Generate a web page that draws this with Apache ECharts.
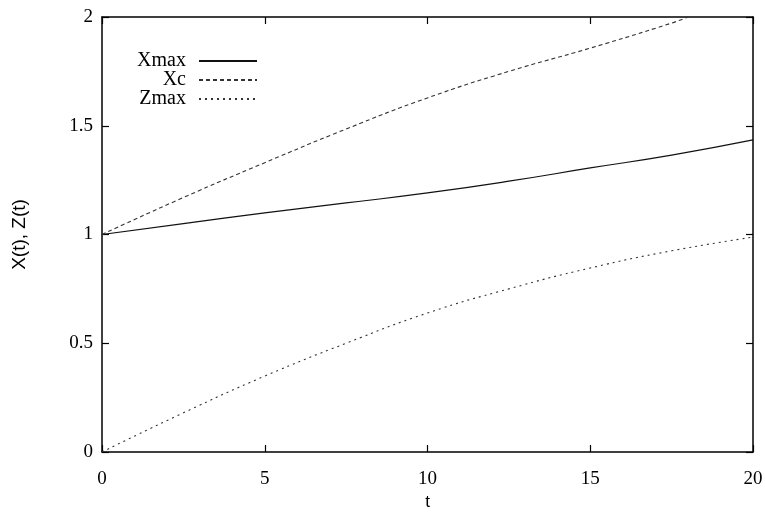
<!DOCTYPE html>
<html>
<head>
<meta charset="utf-8">
<script src="https://cdn.jsdelivr.net/npm/echarts@6/dist/echarts.min.js"></script>
<style>html,body{margin:0;padding:0;background:#fff}#c{width:765px;height:524px}</style>
</head>
<body>
<div id="c"></div>
<script>
var tMain = [0, 2.5, 5, 7.5, 10, 12.5, 15, 17.5, 20];
var xmax = [1.0, 1.05, 1.099, 1.145, 1.191, 1.245, 1.306, 1.365, 1.435];
var zmax = [0.0, 0.18, 0.349, 0.50, 0.639, 0.75, 0.846, 0.925, 0.988];
var tXc = [0, 2.5, 5, 7.5, 10, 12.5, 15, 17.5, 18];
var xc = [1.0, 1.17, 1.33, 1.485, 1.628, 1.75, 1.857, 1.972, 2.0];
var xTicks = [0, 5, 10, 15, 20];
var yTicks = [0, 0.5, 1, 1.5, 2];

function pairs(t, v) { return t.map(function (x, i) { return [x, v[i]]; }); }

var serif = 'Liberation Serif';
var chart = echarts.init(document.getElementById('c'));
function legendFor(name, top) {
  return {
    data: [name], right: 507, top: top, orient: 'vertical', align: 'right',
    itemWidth: 58, itemHeight: 10, padding: 0,
    itemStyle: { opacity: 0 },
    textStyle: { fontFamily: serif, fontSize: 20, color: '#000', padding: [0, 8, 0, 0] }
  };
}
var axLine = { show: true, onZero: false, lineStyle: { color: '#000', width: 1.5 } };
var axTick = { show: true, inside: true, length: 7, lineStyle: { color: '#000', width: 1.2 } };
chart.setOption({
  animation: false,
  backgroundColor: '#fff',
  grid: { left: 102, right: 12, top: 17, bottom: 72, containLabel: false, outerBoundsMode: 'none' },
  legend: [legendFor('Xmax', 51), legendFor('Xc', 70), legendFor('Zmax', 89)],
  xAxis: [{
    type: 'value', min: 0, max: 20, interval: 5, position: 'bottom',
    name: 't', nameLocation: 'middle', nameGap: 37,
    nameTextStyle: { fontFamily: 'Liberation Sans', fontSize: 17, color: '#000' },
    axisLine: axLine, axisTick: axTick,
    axisLabel: { fontFamily: serif, fontSize: 19, color: '#000', margin: 18,
      formatter: function (v) { return xTicks.indexOf(v) >= 0 ? String(v) : ''; } },
    splitLine: { show: false }
  }, {
    type: 'value', min: 0, max: 20, interval: 5, position: 'top',
    axisLine: axLine, axisTick: axTick,
    axisLabel: { show: false }, splitLine: { show: false }
  }],
  yAxis: [{
    type: 'value', min: 0, max: 2, interval: 0.5, position: 'left',
    name: 'X(t), Z(t)', nameLocation: 'middle', nameGap: 73, nameRotate: 90,
    nameTextStyle: { fontFamily: 'Liberation Sans', fontSize: 19, color: '#000' },
    axisLine: axLine, axisTick: axTick,
    axisLabel: { fontFamily: serif, fontSize: 19, color: '#000', margin: 9,
      formatter: function (v) { return yTicks.indexOf(v) >= 0 ? String(v) : ''; } },
    splitLine: { show: false }
  }, {
    type: 'value', min: 0, max: 2, interval: 0.5, position: 'right',
    axisLine: axLine, axisTick: axTick,
    axisLabel: { show: false }, splitLine: { show: false }
  }],
  series: [{
    name: 'Xmax', type: 'line', smooth: true, symbol: 'none', xAxisIndex: 0, yAxisIndex: 0,
    data: pairs(tMain, xmax), color: '#111',
    lineStyle: { color: '#111', width: 1.2, type: 'solid' }
  }, {
    name: 'Xc', type: 'line', smooth: true, symbol: 'none', xAxisIndex: 0, yAxisIndex: 0,
    data: pairs(tXc, xc), color: '#333',
    lineStyle: { color: '#333', width: 1.1, type: [4, 3] }
  }, {
    name: 'Zmax', type: 'line', smooth: true, symbol: 'none', xAxisIndex: 0, yAxisIndex: 0,
    data: pairs(tMain, zmax), color: '#333',
    lineStyle: { color: '#333', width: 1.1, type: [2, 4] }
  }]
});
</script>
</body>
</html>
